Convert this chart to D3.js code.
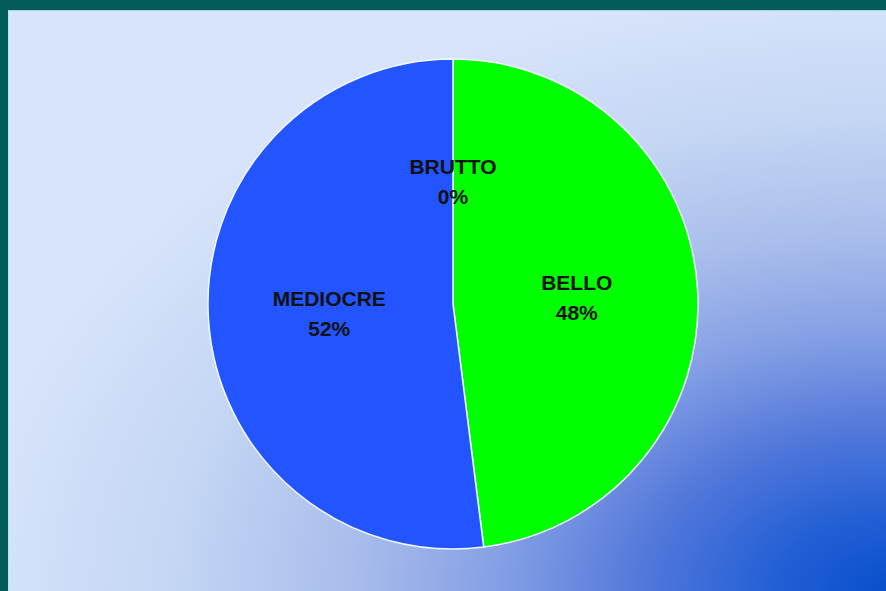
<!DOCTYPE html>
<html>
<head>
<meta charset="utf-8">
<script src="https://cdn.jsdelivr.net/npm/d3@7"></script>
<style>
  html, body { margin: 0; padding: 0; background: #035c5a; }
  svg { display: block; }
</style>
</head>
<body>
<svg id="pie_chart"></svg>
<script>
const width = 886
const height = 591

// giudizi e percentuali
const categories = ["BRUTTO", "BELLO", "MEDIOCRE"]
const values = [0, 48, 52]
const sliceColors = ["#ff3030", "#00ff00", "#2255ff"]

const svg = d3.select('#pie_chart')
    .attr('width', width)
    .attr('height', height)

// background: dark blue in the bottom right corner, fading to pale blue
const defs = svg.append('defs')
const grad = defs.append('radialGradient')
    .attr('id', 'bg')
    .attr('cx', 1).attr('cy', 1).attr('r', 1.05)
    .attr('fx', 1).attr('fy', 1)
const stops = [
    [0, "#0a4fcc"], [0.12, "#225fd5"], [0.27, "#5479db"], [0.42, "#849fe4"],
    [0.58, "#a9bdec"], [0.78, "#c5d7f4"], [1, "#d8e4fb"]
]
grad.selectAll('stop')
    .data(stops)
    .join('stop')
    .attr('offset', d => d[0])
    .attr('stop-color', d => d[1])

svg.append('rect')
    .attr('width', width).attr('height', height)
    .attr('fill', '#035c5a')

svg.append('rect')
    .attr('x', 8).attr('y', 10)
    .attr('width', width - 8).attr('height', height - 10)
    .attr('fill', 'url(#bg)')

svg.append('line')
    .attr('x1', 8).attr('y1', 10.5).attr('x2', width).attr('y2', 10.5)
    .attr('stroke', '#9fd6e0').attr('stroke-width', 1)
svg.append('line')
    .attr('x1', 8.5).attr('y1', 10).attr('x2', 8.5).attr('y2', height)
    .attr('stroke', '#b8e4ee').attr('stroke-width', 1)

const cx = 453
const cy = 304
const radius = 245

const data = categories.map((c, i) => ({ name: c, value: values[i], color: sliceColors[i] }))

const pie = d3.pie()
    .sort(null)
    .value(d => d.value)

const arc = d3.arc()
    .innerRadius(0)
    .outerRadius(radius)

const labelArc = d3.arc()
    .innerRadius(124)
    .outerRadius(124)

const g = svg.append('g')
    .attr('transform', `translate(${cx},${cy})`)

const arcs = pie(data)

g.selectAll('path')
    .data(arcs.filter(d => d.data.value > 0))
    .join('path')
    .attr('d', arc)
    .attr('fill', d => d.data.color)
    .attr('stroke', '#f2f8ff')
    .attr('stroke-width', 1.5)

const labels = g.selectAll('.lbl')
    .data(arcs)
    .join('text')
    .attr('class', 'lbl')
    .attr('transform', d => `translate(${labelArc.centroid(d)})`)
    .attr('text-anchor', 'middle')
    .attr('font-family', 'Liberation Sans, Arial, sans-serif')
    .attr('font-weight', 'bold')
    .attr('font-size', '21px')
    .attr('fill', '#111')

labels.append('tspan')
    .attr('x', 0)
    .attr('y', -6)
    .text(d => d.data.name)

labels.append('tspan')
    .attr('x', 0)
    .attr('y', 24)
    .text(d => d.data.value + '%')
</script>
</body>
</html>
